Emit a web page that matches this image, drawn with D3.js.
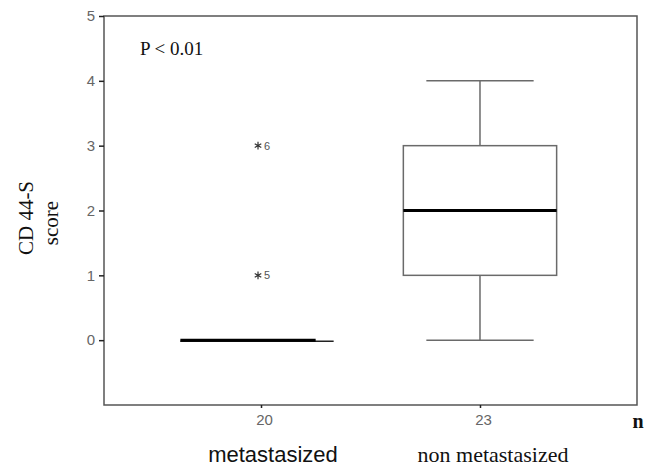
<!DOCTYPE html>
<html>
<head>
<meta charset="utf-8">
<script src="https://cdn.jsdelivr.net/npm/d3@7"></script>
<style>
  body { margin: 0; background: #fff; }
  svg { display: block; }
</style>
</head>
<body>
<div id="chart"></div>
<script>
(function() {
  // data
  var groups = ['metastasized', 'non metastasized'];
  var counts = [20, 23];
  var mins = [0, 0];
  var q1s = [0, 1];
  var medians = [0, 2];
  var q3s = [0, 3];
  var maxs = [0, 4];
  var outliers = [
    { group: 'metastasized', value: 3, label: '6' },
    { group: 'metastasized', value: 1, label: '5' }
  ];
  var yTicks = [0, 1, 2, 3, 4, 5];

  var width = 648, height = 466;
  var margin = { left: 104, right: 11, top: 16, bottom: 61 };
  var x0 = margin.left, x1 = width - margin.right;
  var y0 = height - margin.bottom, y1 = margin.top;
  var sans = 'Liberation Sans, Arial, sans-serif';
  var serif = 'Liberation Serif, Times New Roman, serif';

  var svg = d3.select('#chart').append('svg').attr('width', width).attr('height', height);

  var x = d3.scalePoint().domain(groups).range([x0, x1]).padding(0.717);
  var y = d3.scaleLinear().domain([-1, 5]).range([y0, y1]);
  var step = x.step();
  var boxW = step * 0.70, capW = step * 0.49;

  // frame
  svg.append('rect')
    .attr('x', x0).attr('y', y1)
    .attr('width', x1 - x0).attr('height', y0 - y1)
    .attr('fill', 'none').attr('stroke', '#555').attr('stroke-width', 1.5);

  // y axis
  var yAxis = svg.append('g').attr('transform', 'translate(' + x0 + ',0)')
    .call(d3.axisLeft(y).tickValues(yTicks).tickSize(5).tickFormat(d3.format('d')));
  yAxis.select('.domain').remove();
  yAxis.selectAll('.tick line').attr('stroke', '#222').attr('stroke-width', 1.5);
  yAxis.selectAll('.tick text').attr('fill', '#666')
    .attr('font-family', sans).attr('font-size', 15).attr('x', -9);

  // x axis with n
  var xAxis = svg.append('g').attr('transform', 'translate(0,' + y0 + ')')
    .call(d3.axisBottom(x).tickSize(3).tickFormat(function(d, i) { return counts[i]; }));
  xAxis.select('.domain').remove();
  xAxis.selectAll('.tick line').attr('stroke', '#222').attr('stroke-width', 1.5);
  xAxis.selectAll('.tick text').attr('fill', '#666').attr('y', 20).attr('dy', 0).attr('dx', 3)
    .attr('font-family', sans).attr('font-size', 15);

  // group labels
  svg.append('text').attr('x', x(groups[0]) + 12).attr('y', 462).attr('text-anchor', 'middle')
    .attr('font-family', sans).attr('font-size', 22).attr('fill', '#111')
    .text(groups[0]);
  svg.append('text').attr('x', x(groups[1]) + 13).attr('y', 462).attr('text-anchor', 'middle')
    .attr('font-family', serif).attr('font-size', 22).attr('fill', '#111')
    .text(groups[1]);
  svg.append('text').attr('x', 638).attr('y', 428).attr('text-anchor', 'middle')
    .attr('font-family', serif).attr('font-size', 20)
    .attr('font-weight', 'bold').attr('fill', '#111').text('n');

  // y title
  var yt = svg.append('text').attr('transform', 'translate(33,218) rotate(-90)')
    .attr('text-anchor', 'middle')
    .attr('font-family', serif).attr('font-size', 21).attr('fill', '#111');
  yt.append('tspan').attr('x', 0).attr('dy', 0).text('CD 44-S');
  yt.append('tspan').attr('x', -5).attr('dy', 25).text('score');

  // p value
  svg.append('text').attr('x', 140).attr('y', 55)
    .attr('font-family', serif).attr('font-size', 19).attr('fill', '#111')
    .text('P < 0.01');

  // boxes
  var stroke = '#6a6a6a';
  groups.forEach(function(g, i) {
    var cx = x(g);
    var gg = svg.append('g');
    if (q3s[i] > q1s[i]) {
      gg.append('line').attr('x1', cx).attr('x2', cx).attr('y1', y(maxs[i])).attr('y2', y(q3s[i]))
        .attr('stroke', stroke).attr('stroke-width', 1.5);
      gg.append('line').attr('x1', cx).attr('x2', cx).attr('y1', y(q1s[i])).attr('y2', y(mins[i]))
        .attr('stroke', stroke).attr('stroke-width', 1.5);
      gg.append('line').attr('x1', cx - capW / 2).attr('x2', cx + capW / 2).attr('y1', y(maxs[i])).attr('y2', y(maxs[i]))
        .attr('stroke', stroke).attr('stroke-width', 1.5);
      gg.append('line').attr('x1', cx - capW / 2).attr('x2', cx + capW / 2).attr('y1', y(mins[i])).attr('y2', y(mins[i]))
        .attr('stroke', stroke).attr('stroke-width', 1.5);
      gg.append('rect').attr('x', cx - boxW / 2).attr('y', y(q3s[i]))
        .attr('width', boxW).attr('height', y(q1s[i]) - y(q3s[i]))
        .attr('fill', '#fff').attr('stroke', stroke).attr('stroke-width', 1.5);
      gg.append('line').attr('x1', cx - boxW / 2).attr('x2', cx + boxW / 2)
        .attr('y1', y(medians[i])).attr('y2', y(medians[i]))
        .attr('stroke', '#000').attr('stroke-width', 3);
    } else {
      // collapsed box: median drawn over a thin line
      cx -= 4;
      gg.append('line').attr('x1', cx - boxW / 2).attr('x2', cx + boxW / 2)
        .attr('y1', y(medians[i]) + 1).attr('y2', y(medians[i]) + 1)
        .attr('stroke', '#222').attr('stroke-width', 1.5);
      gg.append('line').attr('x1', cx - boxW / 2).attr('x2', cx + boxW / 2 - 18)
        .attr('y1', y(medians[i])).attr('y2', y(medians[i]))
        .attr('stroke', '#000').attr('stroke-width', 3);
    }
  });

  // outliers
  var og = svg.selectAll('.outlier').data(outliers).enter().append('g')
    .attr('class', 'outlier')
    .attr('transform', function(d) { return 'translate(' + (x(d.group) - 3) + ',' + y(d.value) + ')'; });
  og.append('path').attr('d', d3.symbol().type(d3.symbolAsterisk).size(40))
    .attr('fill', 'none').attr('stroke', '#333').attr('stroke-width', 1.2);
  og.append('text').attr('x', 6).attr('y', 4)
    .attr('font-family', sans).attr('font-size', 11).attr('fill', '#555')
    .text(function(d) { return d.label; });
})();
</script>
</body>
</html>
